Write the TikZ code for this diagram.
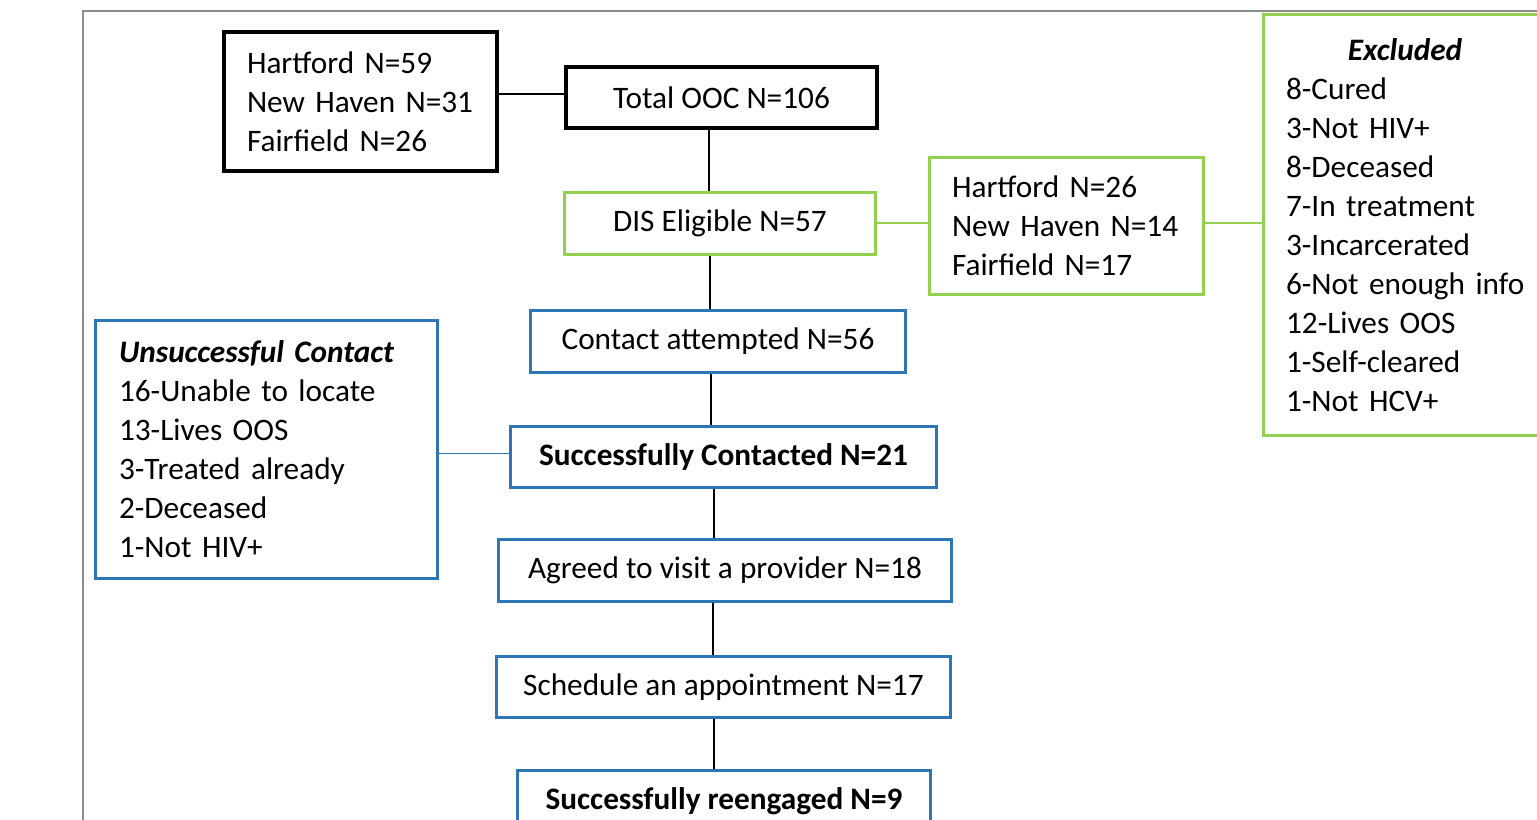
\documentclass[tikz,border=0pt]{standalone}
\usepackage{fontspec}
\setmainfont{Carlito}
\definecolor{offgreen}{HTML}{92D050}
\definecolor{offblue}{HTML}{2E75B6}
\definecolor{framegray}{HTML}{8C8C8C}
\begin{document}
\begin{tikzpicture}[x=0.02cm,y=-0.02cm,
  font=\fontsize{17.8}{22.2}\selectfont,
  box/.style={draw,rectangle,inner xsep=0pt,inner ysep=0pt,align=center},
  blackbox/.style={box,draw=black,line width=2.2pt},
  greenbox/.style={box,draw=offgreen,line width=1.7pt},
  bluebox/.style={box,draw=offblue,line width=1.7pt},
  conn/.style={line width=1.1pt,draw=black},
  gconn/.style={line width=1.1pt,draw=offgreen},
  bconn/.style={line width=1.1pt,draw=offblue}]
\clip (0,0) rectangle (1537,820);
\fill[white] (0,0) rectangle (1537,820);
% outer frame
\coordinate (fbl) at (83,820);
\coordinate (ftl) at (83,11);
\coordinate (ftr) at (1537,11);
\draw[framegray,line width=0.85pt] (fbl) -- (ftl) -- (ftr);
% boxes
\node[blackbox,minimum width=5.46cm,minimum height=2.78cm,text width=4.54cm,align=left] (hart) at (360.5,101.5)
  {Hartford N=59\\New Haven N=31\\Fairfield N=26};
\node[blackbox,minimum width=6.22cm,minimum height=1.22cm] (tot) at (721.5,97.5) {Total OOC N=106};
\node[greenbox,minimum width=6.22cm,minimum height=1.24cm] (dis) at (720,223.5) {DIS Eligible N=57};
\node[greenbox,minimum width=5.48cm,minimum height=2.74cm,text width=4.58cm,align=left] (reg) at (1066.5,226)
  {Hartford N=26\\New Haven N=14\\Fairfield N=17};
\node[greenbox,minimum width=6.1cm,minimum height=8.42cm,text width=5.2cm,align=left] (exc) at (1416,225)
  {\makebox[4.76cm]{\textbf{\textit{Excluded}}}\\8-Cured\\3-Not HIV+\\8-Deceased\\7-In treatment\\3-Incarcerated\\6-Not enough info\\12-Lives OOS\\1-Self-cleared\\1-Not HCV+};
\node[bluebox,minimum width=7.5cm,minimum height=1.24cm] (con) at (718,341.5) {Contact attempted N=56};
\node[bluebox,minimum width=8.52cm,minimum height=1.22cm] (suc) at (723.5,457) {\textbf{Successfully Contacted N=21}};
\node[bluebox,minimum width=6.84cm,minimum height=5.16cm,text width=5.9cm,align=left] (uns) at (266.5,449.5)
  {\textbf{\textit{Unsuccessful Contact}}\\16-Unable to locate\\13-Lives OOS\\3-Treated already\\2-Deceased\\1-Not HIV+};
\node[bluebox,minimum width=9.06cm,minimum height=1.24cm] (agr) at (725,570.5) {Agreed to visit a provider N=18};
\node[bluebox,minimum width=9.08cm,minimum height=1.22cm] (sch) at (723.5,687) {Schedule an appointment N=17};
\node[bluebox,minimum width=8.26cm,minimum height=1.24cm] (ree) at (724,801) {\textbf{Successfully reengaged N=9}};
% connector guide x positions
\coordinate (x1) at (709,0);
\coordinate (x2) at (710,0);
\coordinate (x3) at (711,0);
\coordinate (x4) at (714,0);
\coordinate (x5) at (713,0);
\coordinate (x6) at (714,0);
\coordinate (yh) at (0,94);
\coordinate (yg) at (0,223);
\coordinate (yb) at (0,453.5);
% connectors
\draw[conn] (hart.east |- yh) -- (tot.west |- yh);
\draw[conn] (x1 |- tot.south) -- (x1 |- dis.north);
\draw[gconn] (dis.east |- yg) -- (reg.west |- yg);
\draw[gconn] (reg.east |- yg) -- (exc.west |- yg);
\draw[conn] (x2 |- dis.south) -- (x2 |- con.north);
\draw[conn] (x3 |- con.south) -- (x3 |- suc.north);
\draw[bconn] (uns.east |- yb) -- (suc.west |- yb);
\draw[conn] (x4 |- suc.south) -- (x4 |- agr.north);
\draw[conn] (x5 |- agr.south) -- (x5 |- sch.north);
\draw[conn] (x6 |- sch.south) -- (x6 |- ree.north);
\end{tikzpicture}
\end{document}
